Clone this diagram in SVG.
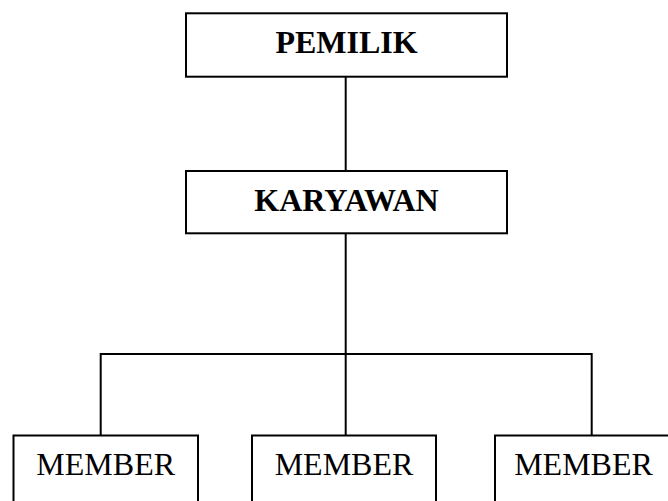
<svg xmlns="http://www.w3.org/2000/svg" width="668" height="501" viewBox="0 0 668 501">
<style>
.box{fill:#fff;stroke:#000;stroke-width:2}
.ln{fill:none;stroke:#000;stroke-width:2}
.b{font-family:"Liberation Serif","Times New Roman",serif;font-size:32px;font-weight:bold;text-anchor:middle;fill:#000}
.r{font-family:"Liberation Serif","Times New Roman",serif;font-size:32px;text-anchor:middle;fill:#000}
</style>
<rect width="668" height="501" fill="#fff"/>
<g id="connectors">
<line class="ln" x1="345.7" y1="77" x2="345.7" y2="171"/>
<line class="ln" x1="345.7" y1="233" x2="345.7" y2="435"/>
<polyline class="ln" points="100.7,435 100.7,354 591.7,354 591.7,435"/>
</g>
<g id="pemilik">
<rect class="box" x="186" y="13.3" width="321" height="63.4"/>
<text class="b" x="346.5" y="52.5">PEMILIK</text>
</g>
<g id="karyawan">
<rect class="box" x="186" y="171" width="321" height="62.3"/>
<text class="b" x="346.5" y="211.3">KARYAWAN</text>
</g>
<g id="member1">
<rect class="box" x="13.5" y="435.5" width="184.5" height="80"/>
<text class="r" x="105.7" y="474.7">MEMBER</text>
</g>
<g id="member2">
<rect class="box" x="252" y="435.5" width="184" height="80"/>
<text class="r" x="344" y="474.7">MEMBER</text>
</g>
<g id="member3">
<rect class="box" x="495" y="435.5" width="180" height="80"/>
<text class="r" x="583.5" y="474.7">MEMBER</text>
</g>
</svg>
